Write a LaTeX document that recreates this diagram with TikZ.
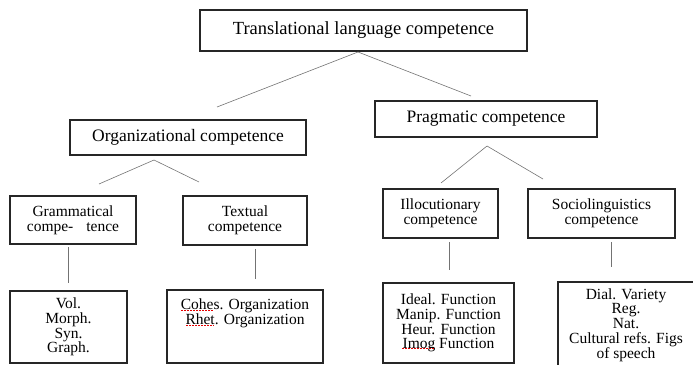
\documentclass[tikz,border=0pt]{standalone}
\usepackage{fontspec}
\setmainfont{Liberation Serif}

\begin{document}
\begin{tikzpicture}[x=1pt,y=-1pt,
    box/.style={draw=black!85,line width=1.1pt,inner sep=0pt,align=center},
    big/.style={font=\fontsize{18.5}{20}\selectfont},
    mid/.style={font=\fontsize{17.5}{19}\selectfont},
    small/.style={font=\fontsize{15.5}{14.8}\selectfont},
    conn/.style={draw=black!55,line width=0.6pt},
    spell/.style={draw=red!90!black,line width=0.9pt,dash pattern=on 1.8pt off 1.2pt}]

        \useasboundingbox (0,0) rectangle (693,364);

        % level 1 and 2
        \node[box,big,minimum width=327pt,minimum height=41pt] (trans) at (363.5,30.5) {Translational language competence};
        \node[box,mid,minimum width=236pt,minimum height=35pt] (org) at (188,137.5) {Organizational competence};
        \node[box,mid,minimum width=222pt,minimum height=36pt] (prag) at (486,119) {Pragmatic competence};

        % level 3
        \node[box,small,minimum width=126pt,minimum height=48pt] (gram) at (73,220) {Grammatical\\compe-\hspace{13pt}tence};
        \node[box,small,minimum width=124pt,minimum height=49pt] (textual) at (245,220.5) {Textual\\competence};
        \node[box,small,minimum width=115pt,minimum height=49pt] (illoc) at (440.5,213.5) {Illocutionary\\competence};
        \node[box,small,minimum width=147pt,minimum height=49pt] (socio) at (601.5,213.5) {Sociolinguistics\\competence};

        % level 4
        \node[box,small,minimum width=117pt,minimum height=72pt] (vol) at (68.5,327) {Vol.\\Morph.\\Syn.\\Graph.};
        \node[box,small,minimum width=156pt,minimum height=73pt] (cohes) at (245,326.5)
            {Cohes. Organization\\Rhet. Organization\\\mbox{}\\\mbox{}};
        \node[box,small,minimum width=131pt,minimum height=80pt] (ideal) at (448.5,323)
            {Ideal. Function\\Manip. Function\\Heur. Function\\Imog Function};
        \node[box,small,minimum width=136pt,minimum height=86pt] (dial) at (626,325)
            {Dial. Variety\\Reg.\\Nat.\\Cultural refs. Figs\\of speech};

        % spelling marks
        \draw[spell] (181,310.5) -- (213,310.5);
        \draw[spell] (186,325.5) -- (214,325.5);
        \draw[spell] (402,348.5) -- (434,348.5);

        % connector ends
        \coordinate (trans-a) at (358,52);   \coordinate (org-t) at (217,107);  \coordinate (prag-t) at (471,96);
        \coordinate (org-a) at (154,160);    \coordinate (gram-t) at (99,184);  \coordinate (textual-t) at (199,182);
        \coordinate (prag-a) at (487,146);   \coordinate (illoc-t) at (441,183); \coordinate (socio-t) at (543,179);
        \coordinate (gram-b) at (68,247);    \coordinate (vol-t) at (68,283);
        \coordinate (textual-b) at (255,249); \coordinate (cohes-t) at (255,279);
        \coordinate (illoc-b) at (449,242);  \coordinate (ideal-t) at (449,270);
        \coordinate (socio-b) at (611,242);  \coordinate (dial-t) at (611,267);

        \foreach \a/\b in {trans-a/org-t,trans-a/prag-t,org-a/gram-t,org-a/textual-t,prag-a/illoc-t,prag-a/socio-t,
            gram-b/vol-t,textual-b/cohes-t,illoc-b/ideal-t,socio-b/dial-t} \draw[conn] (\a) -- (\b);

      \end{tikzpicture}
\end{document}
